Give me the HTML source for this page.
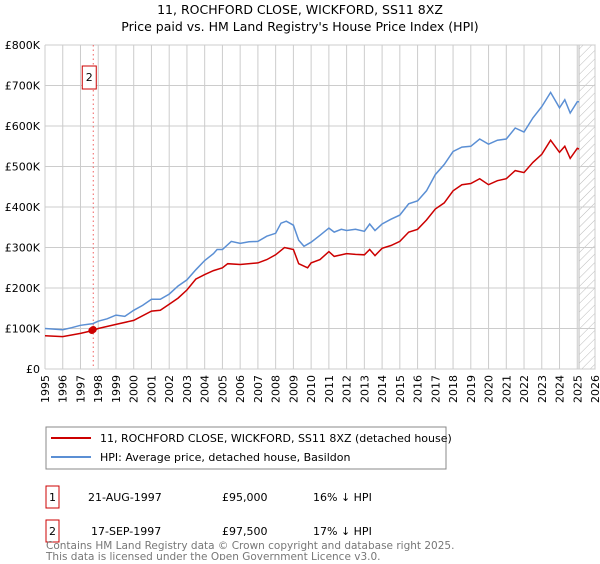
<!DOCTYPE html>
<html><head><meta charset="utf-8"><style>
body{margin:0;background:#fff;font-family:"DejaVu Sans","Liberation Sans",sans-serif;}
svg text{font-family:"DejaVu Sans","Liberation Sans",sans-serif;}
</style></head><body>
<svg id="c" width="600" height="560" xmlns="http://www.w3.org/2000/svg">
<defs><pattern id="hatch" width="6" height="6" patternUnits="userSpaceOnUse" patternTransform="rotate(45)"><line x1="0" y1="0" x2="0" y2="6" stroke="#bbb" stroke-width="1"/></pattern></defs>
<text x="300" y="14" text-anchor="middle" font-size="12.5">11, ROCHFORD CLOSE, WICKFORD, SS11 8XZ</text>
<text x="300" y="31" text-anchor="middle" font-size="12.5">Price paid vs. HM Land Registry's House Price Index (HPI)</text>
<g id="grid"></g><g id="axes"></g><g id="series"></g>
<rect x="46" y="427" width="400" height="42" fill="#fff" stroke="#888"/>
<line x1="51" y1="438" x2="91" y2="438" stroke="#cc0000" stroke-width="2"/>
<text x="100" y="442" font-size="11">11, ROCHFORD CLOSE, WICKFORD, SS11 8XZ (detached house)</text>
<line x1="51" y1="457" x2="91" y2="457" stroke="#5b8fd4" stroke-width="2"/>
<text x="100" y="461" font-size="11">HPI: Average price, detached house, Basildon</text>
<g font-size="11">
<rect x="46" y="486" width="13" height="22" fill="#fff" stroke="#cc0000"/><text x="52.5" y="501" text-anchor="middle">1</text>
<text x="88" y="501">21-AUG-1997</text><text x="222" y="501">£95,000</text><text x="313" y="501">16% ↓ HPI</text></g>
<g font-size="11">
<rect x="46" y="520" width="13" height="22" fill="#fff" stroke="#cc0000"/><text x="52.5" y="535" text-anchor="middle">2</text>
<text x="91" y="535">17-SEP-1997</text><text x="222" y="535">£97,500</text><text x="313" y="535">17% ↓ HPI</text></g>
<text x="46" y="549" font-size="10.5" fill="#777">Contains HM Land Registry data © Crown copyright and database right 2025.</text>
<text x="46" y="560" font-size="10.5" fill="#777">This data is licensed under the Open Government Licence v3.0.</text>
</svg>
<script>
const hpiX=[1995,1996,1996.5,1997,1997.7,1998,1998.5,1999,1999.5,2000,2000.5,2001,2001.5,2002,2002.5,2003,2003.5,2004,2004.5,2004.7,2005,2005.5,2006,2006.5,2007,2007.5,2008,2008.3,2008.6,2009,2009.3,2009.6,2010,2010.5,2011,2011.3,2011.7,2012,2012.5,2013,2013.3,2013.6,2014,2014.5,2015,2015.5,2016,2016.5,2017,2017.5,2018,2018.5,2019,2019.5,2020,2020.5,2021,2021.5,2022,2022.5,2023,2023.5,2024,2024.3,2024.6,2025,2025.1];
const hpiY=[100,97,102,108,112,118,124,133,130,145,157,172,172,185,205,220,245,268,285,295,295,315,310,314,315,328,335,360,365,355,318,303,313,330,348,338,345,342,345,340,358,342,358,370,380,408,415,440,480,505,537,548,550,568,555,565,568,595,585,620,648,683,645,665,632,660,660];
const propX=[1995,1996,1997,1997.7,1998,1999,2000,2001,2001.5,2002,2002.5,2003,2003.5,2004,2004.5,2005,2005.3,2006,2007,2007.5,2008,2008.5,2009,2009.3,2009.8,2010,2010.5,2011,2011.3,2012,2012.5,2013,2013.3,2013.6,2014,2014.5,2015,2015.5,2016,2016.5,2017,2017.5,2018,2018.5,2019,2019.5,2020,2020.5,2021,2021.5,2022,2022.5,2023,2023.5,2024,2024.3,2024.6,2025,2025.1];
const propY=[82,80,88,95,100,110,120,143,145,160,175,195,222,233,243,250,260,258,262,270,282,300,295,260,250,262,270,290,278,285,283,282,295,280,298,305,315,338,345,368,395,410,440,455,458,470,455,465,470,490,485,510,530,565,535,550,520,545,543];
const saleX=[1997.64,1997.72];
const saleY=[95,97.5];
const yTicks=[0,100,200,300,400,500,600,700,800];
const yLabels=["£0","£100K","£200K","£300K","£400K","£500K","£600K","£700K","£800K"];
const xTicks=[];for(let y=1995;y<=2026;y++)xTicks.push(y);
const L=45,R=595,T=45,B=369;
const sx=v=>L+(v-1995)*(R-L)/31;
const sy=v=>B-v*(B-T)/800;
const NS="http://www.w3.org/2000/svg";
function mk(p,t,a){const e=document.createElementNS(NS,t);for(const k in a)e.setAttribute(k,a[k]);p.appendChild(e);return e;}
const g=document.getElementById('grid'),ax=document.getElementById('axes'),se=document.getElementById('series');
const hatch=mk(g,'rect',{x:sx(2025.1),y:T,width:R-sx(2025.1),height:B-T,fill:'url(#hatch)',stroke:'#bbb'});


xTicks.forEach(v=>{const l=mk(g,'line',{x1:sx(v),x2:sx(v),y1:T,y2:B,stroke:'#ccc'});


const x=sx(v)+4,y=B+6;
const t=mk(ax,'text',{x:x,y:y,'text-anchor':'end','font-size':'11',transform:`rotate(-90 ${x} ${y})`});t.textContent=v;

});
yTicks.forEach((v,i)=>{const l=mk(g,'line',{x1:L,x2:R,y1:sy(v),y2:sy(v),stroke:'#ccc'});


const t=mk(ax,'text',{x:L-5,y:sy(v)+4,'text-anchor':'end','font-size':'11'});t.textContent=yLabels[i];

});
const vl=mk(se,'line',{x1:sx(saleX[1]),x2:sx(saleX[1]),y1:T,y2:B,stroke:'#f06060','stroke-dasharray':'1.5,3'});


const pts=(xs,ys)=>xs.map((x,i)=>sx(x).toFixed(1)+','+sy(ys[i]).toFixed(1)).join(' ');
const hl=mk(se,'polyline',{points:pts(hpiX,hpiY),fill:'none',stroke:'#5b8fd4','stroke-width':1.5});


const pl=mk(se,'polyline',{points:pts(propX,propY),fill:'none',stroke:'#cc0000','stroke-width':1.5});


saleX.forEach((x,i)=>{const c=mk(se,'circle',{cx:sx(x),cy:sy(saleY[i]),r:3.5,fill:'#cc0000'});

});
const bx=mk(se,'rect',{x:sx(saleX[1])-11,y:66,width:14,height:23,fill:'#fff',stroke:'#cc0000'});


const bt=mk(se,'text',{x:sx(saleX[1])-4,y:81,'text-anchor':'middle','font-size':'11'});bt.textContent='2';


</script>
</body></html>
